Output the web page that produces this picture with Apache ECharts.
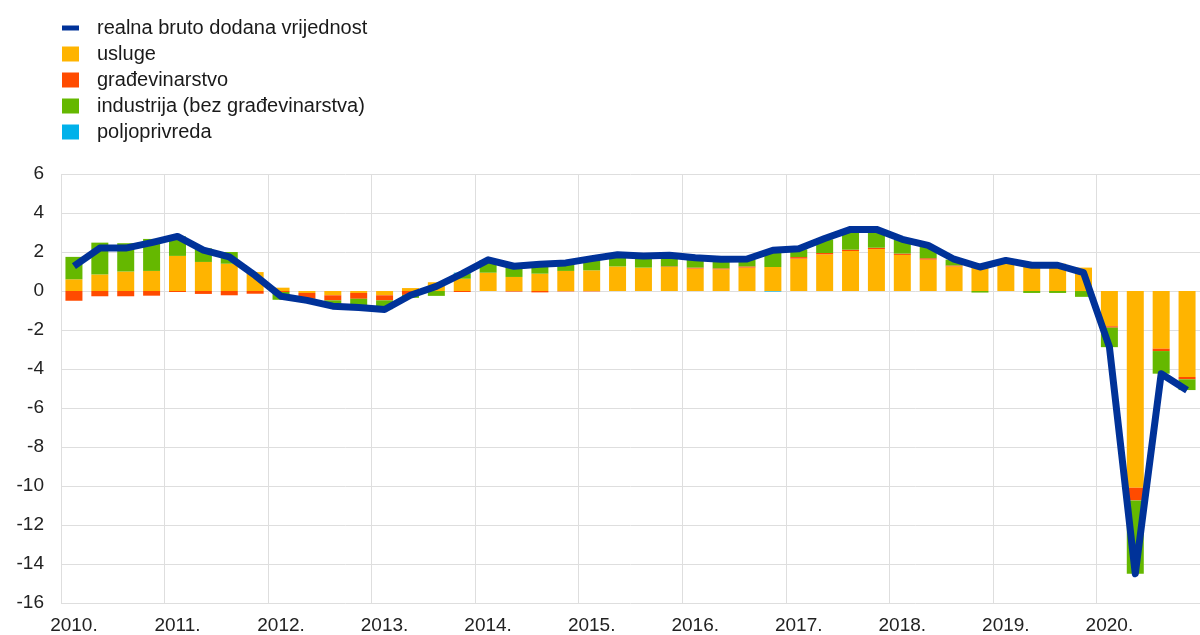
<!DOCTYPE html>
<html>
<head>
<meta charset="utf-8">
<script src="https://cdn.jsdelivr.net/npm/echarts@6/dist/echarts.min.js"></script>
<style>
  html, body { margin: 0; padding: 0; background: #fff; }
  #main { width: 1200px; height: 635px; }
</style>
</head>
<body>
<div id="main"></div>
<script>
// kvartali 2010. - 2020.
const years = ['2010', '2011', '2012', '2013', '2014', '2015', '2016', '2017', '2018', '2019', '2020'];
const quarters = ['Q1', 'Q2', 'Q3', 'Q4'];
const categories = [];
years.forEach(y => quarters.forEach(q => categories.push(y + ' ' + q)));

const yTicks = { min: -16, max: 6, step: 2 };

const usluge = [
  0.6, 0.85, 1.0, 1.03,
  1.8, 1.49, 1.4, 0.97,
  0.17, -0.1, -0.22, -0.1,
  -0.22, 0.15, 0.45, 0.63,
  0.94, 0.72, 0.89, 1.03,
  1.06, 1.26, 1.2, 1.23,
  1.15, 1.11, 1.2, 1.23,
  1.66, 1.88, 2.05, 2.15,
  1.85, 1.61, 1.26, 1.25,
  1.45, 1.35, 1.4, 1.2,
  -1.81, -10.09, -2.96, -4.41
];
const gradjevinarstvo = [
  -0.5, -0.27, -0.27, -0.24,
  -0.05, -0.15, -0.22, -0.14,
  -0.05, -0.3, -0.26, -0.3,
  -0.26, -0.2, 0, -0.05,
  0, -0.03, -0.07, -0.02,
  -0.02, 0, 0, 0.03,
  0.05, 0.05, 0.06, 0,
  0.08, 0.07, 0.07, 0.07,
  0.07, 0.07, 0.05, 0,
  0.05, 0, 0, 0,
  -0.07, -0.65, -0.12, -0.12
];
const industrija = [
  1.15, 1.63, 1.45, 1.64,
  1.0, 0.7, 0.6, 0,
  -0.4, -0.1, -0.3, -0.4,
  -0.45, -0.15, -0.25, 0.26,
  0.6, 0.55, 0.5, 0.4,
  0.55, 0.55, 0.55, 0.55,
  0.45, 0.45, 0.35, 0.8,
  0.4, 0.7, 1.0, 0.9,
  0.7, 0.62, 0.3, -0.08,
  0.05, -0.1, -0.1, -0.3,
  -1.0, -3.76, -1.16, -0.55
];
const poljoprivreda = [
  0, 0, 0, 0,
  0, 0, 0, 0,
  0, 0, 0, 0,
  0, 0, 0, 0.05,
  0.05, 0, 0, 0,
  0, 0, 0, 0,
  0, 0, 0, -0.03,
  0, 0, 0, 0,
  0, 0, 0, 0,
  0, 0, 0, 0,
  0, 0, 0, 0
];
const bdv = [
  1.27, 2.2, 2.2, 2.48,
  2.8, 2.1, 1.75, 0.8,
  -0.27, -0.48, -0.78, -0.85,
  -0.95, -0.22, 0.24, 0.89,
  1.6, 1.27, 1.37, 1.44,
  1.66, 1.86, 1.8, 1.83,
  1.71, 1.63, 1.64, 2.09,
  2.17, 2.69, 3.16, 3.16,
  2.65, 2.34, 1.63, 1.23,
  1.57, 1.32, 1.32, 0.94,
  -2.87, -14.5, -4.24, -5.09
];

const font = '"Liberation Sans", Arial, sans-serif';
const gridColor = '#dedede';

const chart = echarts.init(document.getElementById('main'));

function barSeries(name, data, color) {
  return {
    name: name,
    type: 'bar',
    stack: 'sektori',
    data: data,
    barWidth: 17,
    itemStyle: { color: color },
    z: 2
  };
}

const option = {
  animation: false,
  textStyle: { fontFamily: font },
  legend: {
    orient: 'vertical',
    left: 57,
    top: 13,
    itemWidth: 17,
    itemHeight: 15,
    itemGap: 6,
    textStyle: { fontSize: 20, color: '#1a1a1a', fontFamily: font, padding: [0, 0, 0, 13] },
    data: [
      { name: 'realna bruto dodana vrijednost', icon: 'path://M0,0H17V5H0Z' },
      { name: 'usluge', icon: 'rect' },
      { name: 'građevinarstvo', icon: 'rect' },
      { name: 'industrija (bez građevinarstva)', icon: 'rect' },
      { name: 'poljoprivreda', icon: 'rect' }
    ]
  },
  grid: {
    left: 61,
    top: 174,
    width: 1142,
    height: 429
  },
  xAxis: {
    type: 'category',
    data: categories,
    axisLine: { show: false },
    axisTick: { show: false },
    axisLabel: {
      interval: 3,
      margin: 13,
      fontSize: 19,
      color: '#222',
      fontFamily: font,
      formatter: v => v.slice(0, 4) + '.'
    },
    splitLine: { show: true, interval: 3, lineStyle: { color: gridColor, width: 1 } }
  },
  yAxis: {
    type: 'value',
    min: yTicks.min,
    max: yTicks.max,
    interval: yTicks.step,
    axisLine: { show: false },
    axisTick: { show: false },
    axisLabel: { fontSize: 19, color: '#222', margin: 17, fontFamily: font },
    splitLine: { lineStyle: { color: gridColor, width: 1 } }
  },
  series: [
    barSeries('usluge', usluge, '#FFB400'),
    barSeries('građevinarstvo', gradjevinarstvo, '#FF4B00'),
    barSeries('industrija (bez građevinarstva)', industrija, '#65B800'),
    barSeries('poljoprivreda', poljoprivreda, '#00B1EA'),
    {
      name: 'realna bruto dodana vrijednost',
      type: 'line',
      data: bdv,
      symbol: 'none',
      lineStyle: { color: '#003299', width: 7, join: 'round' },
      itemStyle: { color: '#003299' },
      z: 5
    }
  ]
};

chart.setOption(option);
</script>
</body>
</html>
